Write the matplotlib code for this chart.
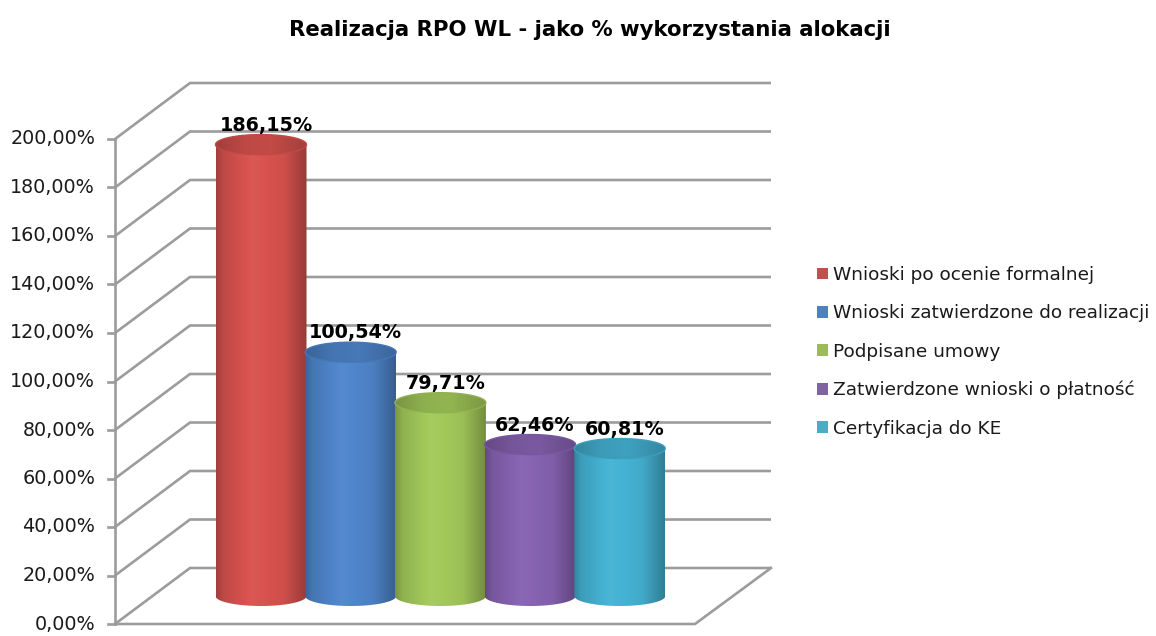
import numpy as np
import matplotlib
matplotlib.use("Agg")
import matplotlib.pyplot as plt
from matplotlib.colors import to_rgb
from matplotlib.path import Path
from matplotlib.patches import PathPatch, Patch

# ---------------- data ----------------
title = "Realizacja RPO WL - jako % wykorzystania alokacji"
series = ["Wnioski po ocenie formalnej",
          "Wnioski zatwierdzone do realizacji",
          "Podpisane umowy",
          "Zatwierdzone wnioski o płatność",
          "Certyfikacja do KE"]
values = [186.15, 100.54, 79.71, 62.46, 60.81]
yticks = [0, 20, 40, 60, 80, 100, 120, 140, 160, 180, 200]
legend_colors = ["#C0504D", "#4F81BD", "#9BBB59", "#8064A2", "#4BACC6"]
bar_colors = ["#D9534F", "#4F86CC", "#A3C95A", "#8763B2", "#45B3D4"]

def pct_fmt(v):
    return f"{v:.2f}%".replace(".", ",")

# ---------------- layout ----------------
W, H = 1156, 636
PX_PER_PCT = 2.425
Y0_PX = 624                      # pixel row of front 0 %
def px2pct(py):
    return (Y0_PX - py) / PX_PER_PCT

X_FRONT, X_BACK = 115, 190
X_RIGHT_BACK, X_RIGHT_FRONT = 771, 695
DEPTH = 56 / PX_PER_PCT          # back wall offset in % units
BAR_BASE = 28 / PX_PER_PCT       # bars stand at mid depth
BAR_X0, BAR_STEP, BAR_HW = 261, 89.7, 45.5
ELL = 10 / PX_PER_PCT            # ellipse half height
GRID_C = "#9c9c9c"

fig = plt.figure(figsize=(W / 100, H / 100), dpi=100)
ax = fig.add_axes([0, 0, 1, 1])
ax.set_xlim(0, W)
ax.set_ylim(px2pct(H), px2pct(0))
ax.axis("off")

# ---------------- walls / gridlines ----------------
for t in yticks:
    ax.plot([X_FRONT, X_BACK, X_RIGHT_BACK], [t, t + DEPTH, t + DEPTH],
            color=GRID_C, lw=1.9, solid_capstyle="butt", zorder=1)
    ax.plot([X_FRONT - 7, X_FRONT], [t, t], color=GRID_C, lw=1.9, zorder=1)
    ax.text(95, t, pct_fmt(t), ha="right", va="center", fontsize=13.8,
            color="#1a1a1a")
ax.plot([X_FRONT, X_FRONT], [0, yticks[-1]], color=GRID_C, lw=1.9, zorder=1)
ax.plot([X_FRONT, X_RIGHT_FRONT, X_RIGHT_BACK], [0, 0, DEPTH],
        color=GRID_C, lw=1.9, zorder=1)

# ---------------- cylinders ----------------
def gradient(color, knots, levels):
    rgb = np.array(to_rgb(color))
    u = np.linspace(0, 1, 256)
    f = np.interp(u, knots, levels)
    out = np.empty((256, 3))
    for k in range(256):
        if f[k] <= 1:
            out[k] = rgb * f[k]
        else:
            out[k] = rgb + (1 - rgb) * (f[k] - 1)
    return np.clip(out, 0, 1)[None, :, :]

theta_lo = np.linspace(np.pi, 2 * np.pi, 60)
theta_all = np.linspace(0, 2 * np.pi, 120)

for i, (v, col) in enumerate(zip(values, bar_colors)):
    c = BAR_X0 + i * BAR_STEP
    b = BAR_BASE
    t = b + v
    z = 3 + i
    # body
    xs = [c - BAR_HW, c - BAR_HW] + list(c + BAR_HW * np.cos(theta_lo)) + [c + BAR_HW]
    ys = [t, b] + list(b + ELL * np.sin(theta_lo)) + [t]
    body = PathPatch(Path(np.column_stack([xs, ys])), facecolor="none",
                     edgecolor="none", zorder=z)
    ax.add_patch(body)
    im = ax.imshow(gradient(col, [0, 0.08, 0.4, 0.75, 1.0],
                            [0.74, 0.88, 1.03, 0.95, 0.70]),
                   extent=[c - BAR_HW, c + BAR_HW, b - ELL, t],
                   aspect="auto", origin="lower", interpolation="bilinear",
                   zorder=z)
    im.set_clip_path(body)
    # top ellipse
    tx = c + BAR_HW * np.cos(theta_all)
    ty = t + ELL * np.sin(theta_all)
    top = PathPatch(Path(np.column_stack([tx, ty])), facecolor="none",
                    edgecolor=tuple(np.array(to_rgb(col)) * 0.88), lw=1.0,
                    zorder=z + 0.2)
    ax.add_patch(top)
    im2 = ax.imshow(gradient(col, [0, 0.3, 0.6, 1.0],
                             [0.74, 0.87, 0.9, 0.76]),
                    extent=[c - BAR_HW, c + BAR_HW, t - ELL, t + ELL],
                    aspect="auto", origin="lower", interpolation="bilinear",
                    zorder=z + 0.1)
    im2.set_clip_path(top)
    # data label
    ax.text(c + 5, t + 8.0, pct_fmt(v), ha="center", va="center",
            fontsize=13.8, fontweight="bold", color="black", zorder=20)

ax.set_xlim(0, W)
ax.set_ylim(px2pct(H), px2pct(0))

# ---------------- title ----------------
fig.text(590 / W, 1 - 30 / H, title, ha="center", va="center",
         fontsize=15.3, fontweight="bold", color="black")

# ---------------- legend ----------------
handles = [Patch(facecolor=c, edgecolor="none") for c in legend_colors]
leg = ax.legend(handles, series, loc="upper left",
                bbox_to_anchor=(817 / W, 1 - 266 / H),
                bbox_transform=fig.transFigure,
                frameon=False, fontsize=13.3, handlelength=0.6,
                handleheight=0.6, handletextpad=0.25, labelspacing=1.1,
                borderpad=0, borderaxespad=0)
for txt in leg.get_texts():
    txt.set_color("#1a1a1a")

fig.savefig("out.png", dpi=100)
